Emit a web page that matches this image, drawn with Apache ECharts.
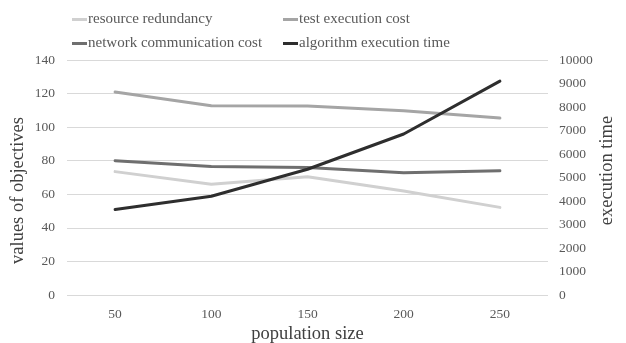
<!DOCTYPE html>
<html>
<head>
<meta charset="utf-8">
<script src="https://cdn.jsdelivr.net/npm/echarts@6/dist/echarts.min.js"></script>
<style>
  html, body { margin: 0; padding: 0; background: #fff; }
  #chart { width: 626px; height: 343px; }
</style>
</head>
<body>
<div id="chart"></div>
<script>
// Population sizes on the category axis
const populationSizes = ['50', '100', '150', '200', '250'];

// Objective values (left axis)
const resourceRedundancy = [73.5, 66.0, 70.5, 62.0, 52.2];
const testExecutionCost = [121.0, 112.8, 112.6, 109.8, 105.4];
const networkCommunicationCost = [80.0, 76.5, 76.0, 72.8, 74.0];

// Algorithm execution time (right axis)
const algorithmExecutionTime = [3640, 4200, 5350, 6850, 9100];

const seriesNames = [
  'resource redundancy',
  'test execution cost',
  'network communication cost',
  'algorithm execution time'
];
const seriesColors = ['#d0d0d0', '#a5a5a5', '#6f6f6f', '#2e2e2e'];

const FONT = '"Liberation Serif", "Times New Roman", serif';
const tickStyle = { color: '#595959', fontFamily: FONT, fontSize: 13.5 };
const nameStyle = { color: '#404040', fontFamily: FONT, fontSize: 18.5 };

// Two rows of two legend entries
const legendPos = [
  { left: 72, top: 12 },
  { left: 283, top: 12 },
  { left: 72, top: 36 },
  { left: 283, top: 36 }
];

const chart = echarts.init(document.getElementById('chart'), null, { renderer: 'canvas' });

chart.setOption({
  animation: false,
  backgroundColor: '#ffffff',
  color: seriesColors,
  legend: seriesNames.map((name, i) => ({
    data: [name],
    left: legendPos[i].left,
    top: legendPos[i].top,
    padding: 0,
    itemWidth: 15,
    itemHeight: 3,
    icon: 'rect',
    selectedMode: false,
    textStyle: { color: '#595959', fontFamily: FONT, fontSize: 15, padding: [0, 0, 0, -4] }
  })),
  grid: { left: 67, right: 78, top: 60, bottom: 48, outerBoundsMode: 'none' },
  xAxis: {
    type: 'category',
    data: populationSizes,
    name: 'population size',
    nameLocation: 'middle',
    nameGap: 30,
    nameMoveOverlap: false,
    nameTextStyle: nameStyle,
    axisLine: { show: false },
    axisTick: { show: false },
    axisLabel: Object.assign({ margin: 12 }, tickStyle)
  },
  yAxis: [
    {
      type: 'value',
      min: 0, max: 140, interval: 20,
      name: 'values of objectives',
      nameLocation: 'middle',
      nameGap: 39,
      nameMoveOverlap: false,
      nameTextStyle: Object.assign({ padding: [0, 26, 0, 0] }, nameStyle),
      axisLine: { show: false },
      axisTick: { show: false },
      axisLabel: Object.assign({ margin: 12 }, tickStyle),
      splitLine: { lineStyle: { color: '#d9d9d9', width: 1 } }
    },
    {
      type: 'value',
      min: 0, max: 10000, interval: 1000,
      name: 'execution time',
      nameLocation: 'middle',
      nameGap: 50,
      nameRotate: 90,
      nameMoveOverlap: false,
      nameTextStyle: Object.assign({ padding: [0, 0, 0, 14] }, nameStyle),
      axisLine: { show: false },
      axisTick: { show: false },
      axisLabel: Object.assign({ margin: 11, formatter: v => String(v) }, tickStyle),
      splitLine: { show: false }
    }
  ],
  series: [
    { name: seriesNames[0], type: 'line', data: resourceRedundancy, yAxisIndex: 0 },
    { name: seriesNames[1], type: 'line', data: testExecutionCost, yAxisIndex: 0 },
    { name: seriesNames[2], type: 'line', data: networkCommunicationCost, yAxisIndex: 0 },
    { name: seriesNames[3], type: 'line', data: algorithmExecutionTime, yAxisIndex: 1 }
  ].map(s => Object.assign(s, {
    symbol: 'none',
    lineStyle: { width: 3, cap: 'round', join: 'round' }
  }))
});
</script>
</body>
</html>
